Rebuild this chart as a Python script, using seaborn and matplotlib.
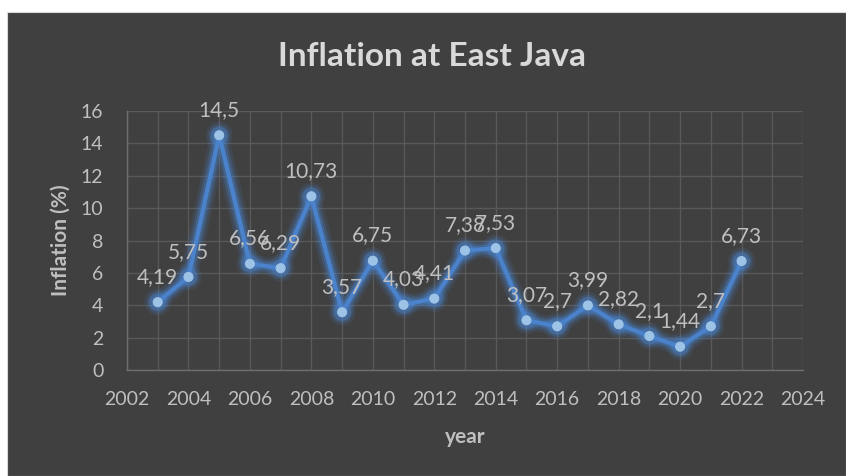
import matplotlib
matplotlib.use("Agg")
import matplotlib.pyplot as plt
import matplotlib.patheffects as pe
from matplotlib.patches import Rectangle
from matplotlib.ticker import MultipleLocator
import seaborn as sns
import pandas as pd

years = [2003, 2004, 2005, 2006, 2007, 2008, 2009, 2010, 2011, 2012,
         2013, 2014, 2015, 2016, 2017, 2018, 2019, 2020, 2021, 2022]
inflation = [4.19, 5.75, 14.5, 6.56, 6.29, 10.73, 3.57, 6.75, 4.03, 4.41,
             7.38, 7.53, 3.07, 2.7, 3.99, 2.82, 2.1, 1.44, 2.7, 6.73]

df = pd.DataFrame({"year": years, "inflation": inflation})

sns.set_theme(style="dark")
plt.rcParams["font.family"] = ["Lato", "DejaVu Sans"]

BG = "#404040"
TXT = "#D9D9D9"
TICK = "#BFBFBF"
GRID = "#595959"
LINE = "#4A82CC"
MARK = "#9DC3E6"

fig = plt.figure(figsize=(8.46, 4.76), dpi=100)
fig.patch.set_facecolor("white")
fig.patches.append(Rectangle((7 / 846, 0), 1 - 7 / 846, 1 - 12 / 476,
                             transform=fig.transFigure, facecolor=BG,
                             edgecolor="#D9D9D9", linewidth=0.8, zorder=-5))

ax = fig.add_axes([127 / 846, 1 - 370 / 476, (803 - 127) / 846, (370 - 111) / 476])
ax.set_facecolor(BG)

glow = [pe.Stroke(linewidth=13, foreground=LINE, alpha=0.12),
        pe.Stroke(linewidth=9, foreground=LINE, alpha=0.22),
        pe.Stroke(linewidth=6, foreground=LINE, alpha=0.35),
        pe.Normal()]

sns.lineplot(data=df, x="year", y="inflation", ax=ax, color=LINE, linewidth=3,
             marker="o", markersize=6.5, markerfacecolor=MARK, markeredgecolor=MARK,
             path_effects=glow, zorder=3)

for x, y in zip(years, inflation):
    ax.annotate(f"{y:g}".replace(".", ","), (x, y), xytext=(0, 11),
                textcoords="offset points", ha="center", va="bottom",
                fontsize=15, color=TICK, zorder=4)

ax.set_xlim(2002, 2024)
ax.set_ylim(0, 16)
ax.xaxis.set_major_locator(MultipleLocator(2))
ax.xaxis.set_minor_locator(MultipleLocator(1))
ax.yaxis.set_major_locator(MultipleLocator(2))
ax.grid(True, which="major", axis="both", color=GRID, linewidth=1)
ax.grid(True, which="minor", axis="x", color=GRID, linewidth=1)
ax.tick_params(axis="both", which="both", length=0, colors=TICK, labelsize=14)
ax.tick_params(axis="x", pad=15)
ax.tick_params(axis="y", pad=17)
for s in ["top", "right"]:
    ax.spines[s].set_visible(False)
for s in ["left", "bottom"]:
    ax.spines[s].set_color("#6E6E6E")
    ax.spines[s].set_linewidth(1)

ax.set_xlabel("year", fontsize=15, fontweight="bold", color=TICK, labelpad=14)
ax.set_ylabel("Inflation (%)", fontsize=15, fontweight="bold", color=TICK, labelpad=7)
fig.text(432 / 846, 1 - 57 / 476, "Inflation at East Java", ha="center", va="center",
         fontsize=24, fontweight="bold", color=TXT)

fig.savefig("out.png", dpi=100, facecolor=fig.get_facecolor())
